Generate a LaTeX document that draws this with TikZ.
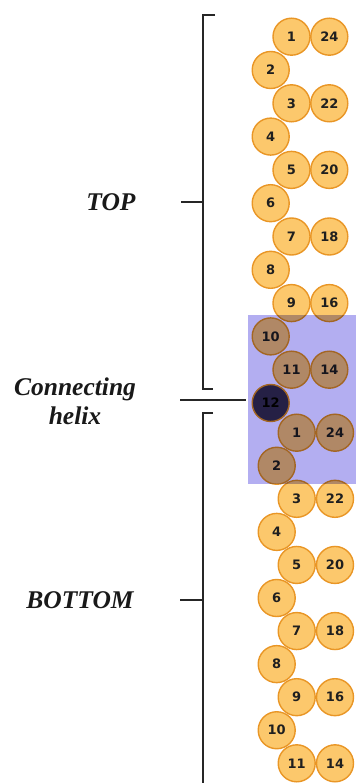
\documentclass[tikz,border=0pt]{standalone}
\usepackage{fontspec}
\newfontfamily\numfont{DejaVu Sans}
\newfontfamily\lblfont{Liberation Serif}
\definecolor{ballfill}{HTML}{FCC86C}
\definecolor{balledge}{HTML}{E99626}
\definecolor{helixbox}{HTML}{B3AEF1}
\definecolor{darkball}{HTML}{36304A}
\tikzset{
  ball/.style={circle, draw=balledge, fill=ballfill, line width=1.4pt, minimum size=37pt, inner sep=0pt,
    font=\numfont\bfseries\fontsize{13}{13}\selectfont, text=black!88},
  lbltext/.style={font=\lblfont\bfseries\itshape\fontsize{25.5}{29}\selectfont, align=center, text=black!90, inner sep=0pt},
  bracketline/.style={line width=1.8pt, draw=black!85},
}
\begin{document}
\begin{tikzpicture}[x=1pt,y=-1pt]
\useasboundingbox (0,0) rectangle (356,783);
% TOP half
\foreach \n in {1,...,11} {
  \pgfmathsetmacro\yy{36.7+(\n-1)*33.3}
  \ifodd\n
    \pgfmathtruncatemacro\r{25-\n}
    \node[ball] (tr\n) at (329.3,\yy) {\r};
    \node[ball] (t\n) at (291.5,\yy) {\n};
  \else
    \node[ball] (t\n) at (270.7,\yy) {\n};
  \fi
}
\node[ball, fill=darkball, text=black] (t12) at (270.7,403) {12};
% BOTTOM half
\foreach \n in {1,...,11} {
  \pgfmathsetmacro\yy{432.7+(\n-1)*33.06}
  \ifodd\n
    \pgfmathtruncatemacro\r{25-\n}
    \node[ball] (br\n) at (335,\yy) {\r};
    \node[ball] (b\n) at (296.7,\yy) {\n};
  \else
    \node[ball] (b\n) at (276.7,\yy) {\n};
  \fi
}
% connecting helix box
\fill[helixbox, blend mode=multiply] (248,315) rectangle (356,484);
% brackets
\coordinate (tbA) at (215,15);
\coordinate (tbB) at (203.3,15);
\coordinate (tbC) at (203.3,389);
\coordinate (tbD) at (213,389);
\draw[bracketline] (tbA) -- (tbB) -- (tbC) -- (tbD);
\coordinate (bbA) at (213,413);
\coordinate (bbB) at (203.3,413);
\coordinate (bbC) at (203.3,783);
\draw[bracketline] (bbA) -- (bbB) -- (bbC);
% labels
\node[lbltext] (top) at (111,202) {TOP};
\node[lbltext] (bottom) at (80,600) {BOTTOM};
\node[lbltext] (helix) at (75,401) {Connecting\\helix};
\coordinate (topM) at (203.3,202);
\coordinate (botM) at (203.3,600);
\coordinate (helixE) at (246,400);
\draw[bracketline] (181,202) coordinate (topS) -- (topM);
\draw[bracketline] (180,600) coordinate (botS) -- (botM);
\draw[bracketline] (180,400) coordinate (helixS) -- (helixE);
\end{tikzpicture}
\end{document}
